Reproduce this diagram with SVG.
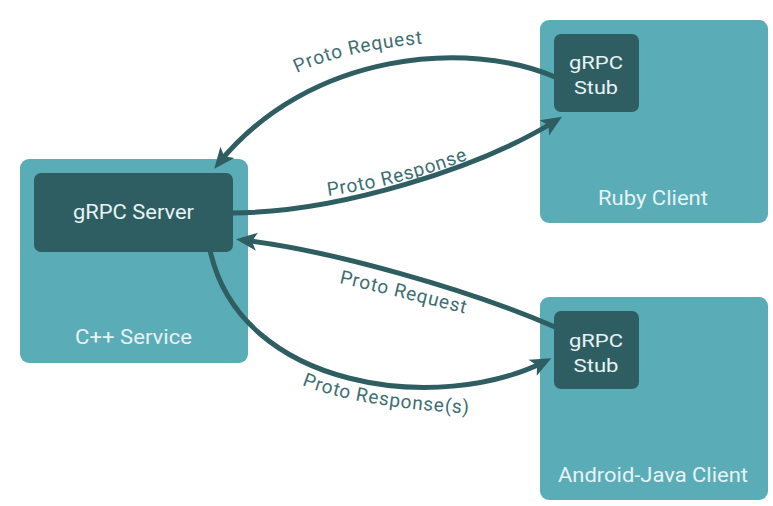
<svg xmlns="http://www.w3.org/2000/svg" width="773" height="506" viewBox="0 0 773 506">
<defs>
<style>
.outer{fill:#5aacb7;}
.inner{fill:#2f5e62;}
.btxt{font-family:Roboto,"Liberation Sans",sans-serif;fill:#e6f3f4;text-anchor:middle;}
.conn{fill:none;stroke:#2f5e62;stroke-width:5;}
.lbl{font-family:Roboto,"Liberation Sans",sans-serif;font-size:19px;fill:#3e6e73;letter-spacing:0.8px;}
</style>
<marker id="arr" markerUnits="userSpaceOnUse" markerWidth="24" markerHeight="22" viewBox="0 -11 22 22" refX="15" refY="0" orient="auto">
<path d="M0,-9 L21,0 L0,9 L5,0 Z" fill="#2f5e62"/>
</marker>
<path id="tp1" d="M297,73 Q345,50 430,43"/>
<path id="tp2" d="M328,196 Q400,186 472,158"/>
<path id="tp3" d="M339,283 Q400,297 470,315"/>
<path id="tp4" d="M302,385 Q360,408 476,414"/>
</defs>
<rect width="773" height="506" fill="#ffffff"/>
<g id="cpp-service">
<rect class="outer" x="20" y="159" width="228" height="204" rx="9"/>
<text class="btxt" x="133.5" y="344" font-size="20" textLength="117" lengthAdjust="spacingAndGlyphs">C++ Service</text>
</g>
<g id="grpc-server">
<rect class="inner" x="34" y="173" width="199" height="79" rx="7"/>
<text class="btxt" x="133.5" y="219" font-size="20" textLength="121" lengthAdjust="spacingAndGlyphs">gRPC Server</text>
</g>
<g id="ruby-client">
<rect class="outer" x="540" y="20" width="228" height="203" rx="9"/>
<text class="btxt" x="653" y="205" font-size="20" textLength="110" lengthAdjust="spacingAndGlyphs">Ruby Client</text>
</g>
<g id="ruby-stub">
<rect class="inner" x="554" y="34" width="85" height="78" rx="7"/>
<text class="btxt" x="596" y="69" font-size="19" textLength="54" lengthAdjust="spacingAndGlyphs">gRPC</text>
<text class="btxt" x="596" y="94" font-size="19" textLength="44" lengthAdjust="spacingAndGlyphs">Stub</text>
</g>
<g id="android-client">
<rect class="outer" x="540" y="297" width="228" height="203" rx="9"/>
<text class="btxt" x="653" y="482" font-size="20" textLength="190" lengthAdjust="spacingAndGlyphs">Android-Java Client</text>
</g>
<g id="android-stub">
<rect class="inner" x="554" y="311" width="85" height="78" rx="7"/>
<text class="btxt" x="596" y="347" font-size="19" textLength="54" lengthAdjust="spacingAndGlyphs">gRPC</text>
<text class="btxt" x="596" y="372" font-size="19" textLength="45" lengthAdjust="spacingAndGlyphs">Stub</text>
</g>
<g id="connectors">
<path class="conn" marker-end="url(#arr)" d="M555,77 C470,40 310,50 218,164"/>
<path class="conn" marker-end="url(#arr)" d="M233,213 C340,212 480,168 557,120"/>
<path class="conn" marker-end="url(#arr)" d="M555,327 C470,290 330,250 242,240"/>
<path class="conn" marker-end="url(#arr)" d="M210,250 C240,390 440,415 546,361"/>
<text class="lbl"><textPath href="#tp1">Proto Request</textPath></text>
<text class="lbl"><textPath href="#tp2">Proto Response</textPath></text>
<text class="lbl"><textPath href="#tp3">Proto Request</textPath></text>
<text class="lbl"><textPath href="#tp4">Proto Response(s)</textPath></text>
</g>
</svg>
